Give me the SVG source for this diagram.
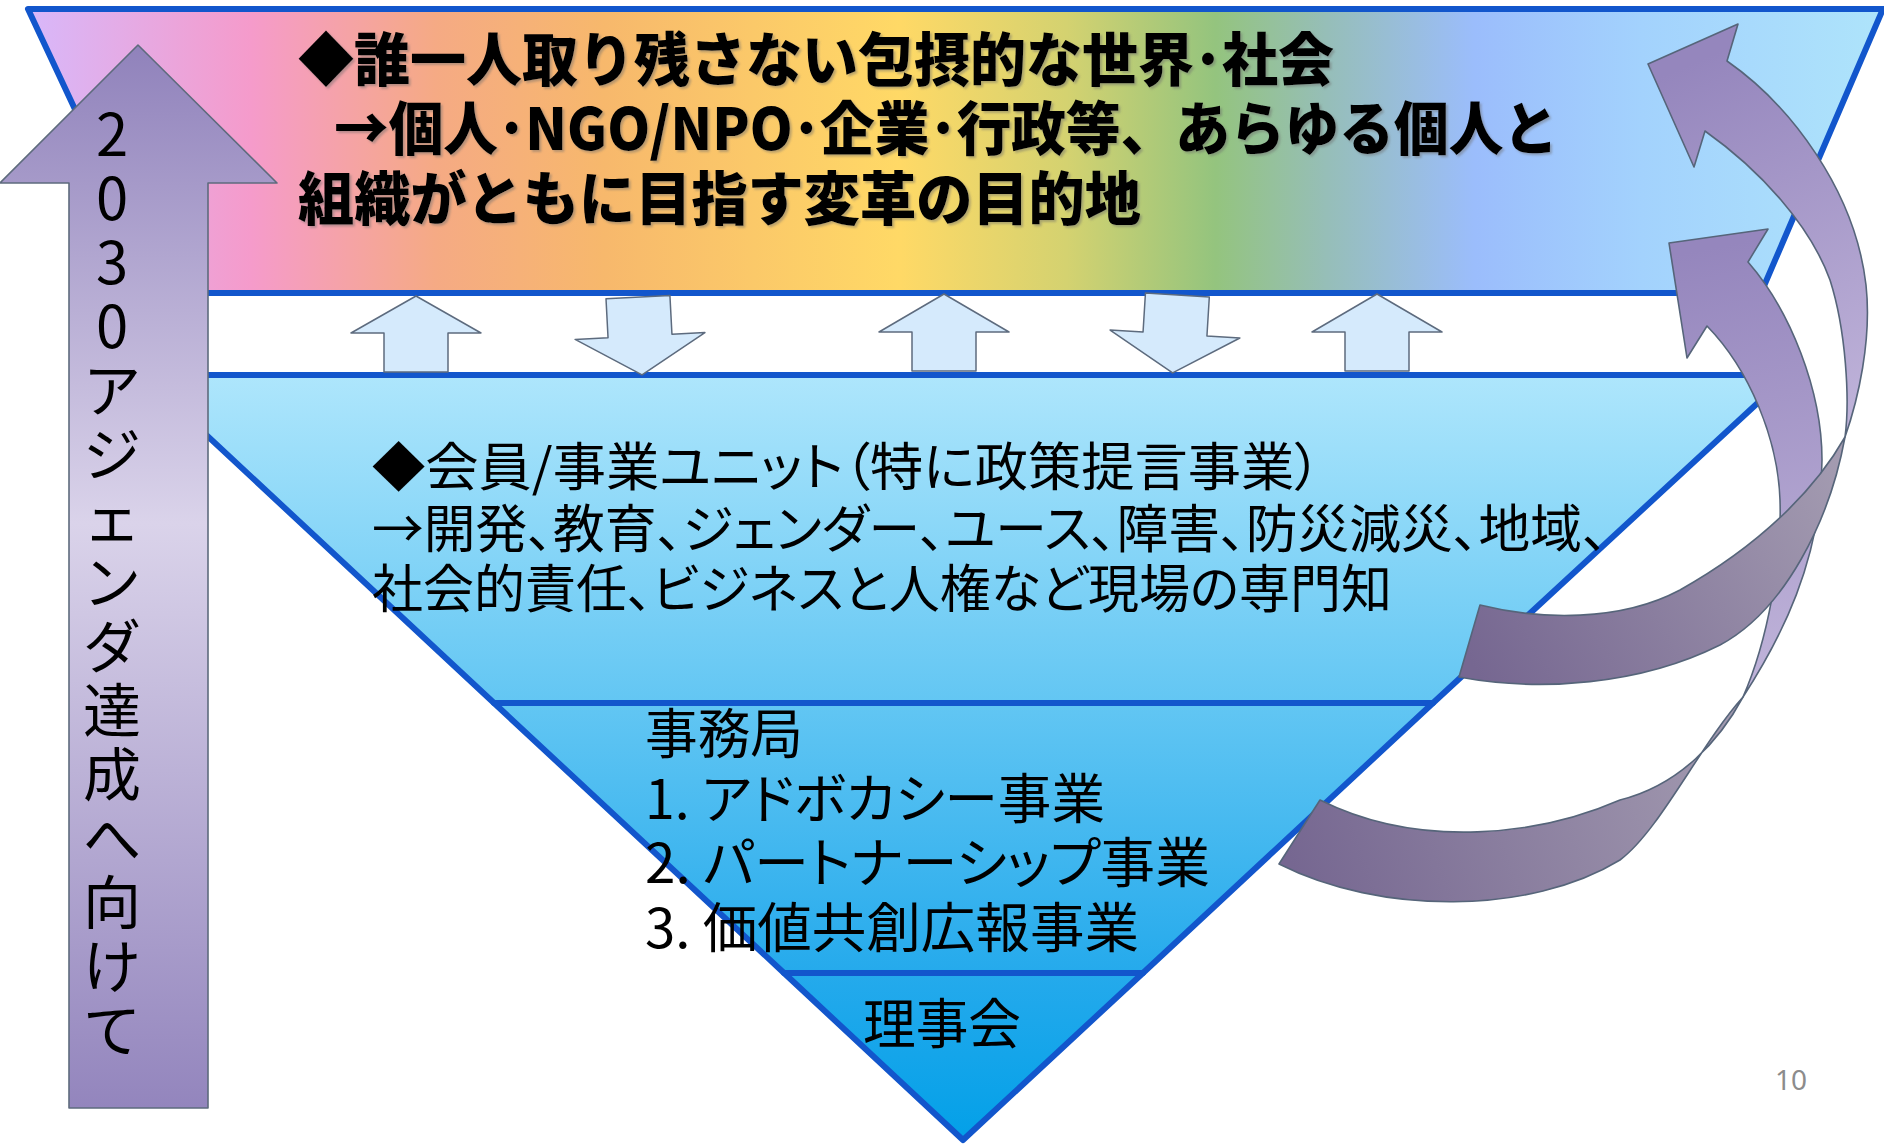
<svg xmlns="http://www.w3.org/2000/svg" width="1884" height="1144" viewBox="0 0 1884 1144">
<defs>
<linearGradient id="rainbow" gradientUnits="userSpaceOnUse" x1="28" y1="0" x2="1883" y2="0">
<stop offset="0" stop-color="#d8b8fa"/>
<stop offset="0.12" stop-color="#f59bcb"/>
<stop offset="0.22" stop-color="#f5aa84"/>
<stop offset="0.31" stop-color="#f7b86c"/>
<stop offset="0.47" stop-color="#ffd966"/>
<stop offset="0.56" stop-color="#d4d270"/>
<stop offset="0.64" stop-color="#94c47e"/>
<stop offset="0.70" stop-color="#96beb8"/>
<stop offset="0.78" stop-color="#9bbdfc"/>
<stop offset="0.87" stop-color="#a3d2fd"/>
<stop offset="1" stop-color="#aee4fb"/>
</linearGradient>
<linearGradient id="blue" gradientUnits="userSpaceOnUse" x1="0" y1="375" x2="0" y2="1140">
<stop offset="0" stop-color="#aee6fc"/>
<stop offset="0.43" stop-color="#62c6f3"/>
<stop offset="0.78" stop-color="#25aaec"/>
<stop offset="1" stop-color="#03a0e8"/>
</linearGradient>
<linearGradient id="goal" gradientUnits="userSpaceOnUse" x1="0" y1="45" x2="0" y2="1108">
<stop offset="0" stop-color="#9082bb"/>
<stop offset="0.45" stop-color="#dad3ea"/>
<stop offset="1" stop-color="#9385bd"/>
</linearGradient>
<linearGradient id="frontA" gradientUnits="userSpaceOnUse" x1="1700" y1="60" x2="1860" y2="430">
<stop offset="0" stop-color="#9586bd"/>
<stop offset="1" stop-color="#c0b4da"/>
</linearGradient>
<linearGradient id="frontB" gradientUnits="userSpaceOnUse" x1="1700" y1="250" x2="1790" y2="690">
<stop offset="0" stop-color="#9586bd"/>
<stop offset="1" stop-color="#c0b4da"/>
</linearGradient>
<linearGradient id="backA" gradientUnits="userSpaceOnUse" x1="1470" y1="660" x2="1840" y2="450">
<stop offset="0" stop-color="#766791"/>
<stop offset="1" stop-color="#a49cb1"/>
</linearGradient>
<linearGradient id="backB" gradientUnits="userSpaceOnUse" x1="1290" y1="860" x2="1740" y2="700">
<stop offset="0" stop-color="#766791"/>
<stop offset="1" stop-color="#a49cb1"/>
</linearGradient>
<filter id="shadow" x="-5%" y="-20%" width="110%" height="140%">
<feDropShadow dx="2" dy="2" stdDeviation="1" flood-color="#6a6a6a" flood-opacity="0.45"/>
</filter>
<style>
.band{stroke:#1256cc;stroke-width:6;stroke-linejoin:round}
.flow{fill:#d5eafc;stroke:#5d6b7e;stroke-width:1.5;stroke-linejoin:round}
.cyc{stroke:#56657a;stroke-width:1.6;stroke-linejoin:round}
text{font-family:"Noto Sans CJK JP","Noto Sans CJK SC",sans-serif;fill:#000}
.tt{font-size:58px;font-weight:900}
.tm{font-size:52px;font-weight:400;font-feature-settings:"palt"}
.ts{font-size:54px;font-weight:400;font-feature-settings:"palt"}
.tv{font-size:58px;font-weight:400;text-anchor:middle}
.pg{font-family:"Noto Sans","Liberation Sans",sans-serif;font-size:28px;fill:#8c8c8c}
</style>
</defs>
<rect width="1884" height="1144" fill="#ffffff"/>

<g id="top-band">
<path class="band" fill="url(#rainbow)" d="M28,9 L1883,9 L1761,293 L161,293 Z"/>
<g filter="url(#shadow)">
<text class="tt" x="298" y="81" textLength="1036" lengthAdjust="spacingAndGlyphs">◆誰一人取り残さない包摂的な世界･社会</text>
<text class="tt" x="334" y="150" textLength="1224" lengthAdjust="spacingAndGlyphs">→個人･NGO/NPO･企業･行政等、あらゆる個人と</text>
<text class="tt" x="298" y="220" textLength="843" lengthAdjust="spacingAndGlyphs">組織がともに目指す変革の目的地</text>
</g>
</g>

<g id="member-band">
<path class="band" fill="url(#blue)" d="M142,375 L1788,375 L1433,703 L494,703 Z"/>
<text class="tm" x="372" y="486" textLength="949" lengthAdjust="spacingAndGlyphs">◆会員/事業ユニット（特に政策提言事業）</text>
<text class="tm" x="372" y="548" textLength="1236" lengthAdjust="spacingAndGlyphs">→開発、教育、ジェンダー、ユース、障害、防災減災、地域、</text>
<text class="tm" x="372" y="608" textLength="1020" lengthAdjust="spacingAndGlyphs">社会的責任、ビジネスと人権など現場の専門知</text>
</g>

<g id="secretariat">
<path class="band" fill="url(#blue)" d="M494,703 L1433,703 L1143,973 L784,973 Z"/>
<text class="ts" x="645" y="754" textLength="158" lengthAdjust="spacingAndGlyphs">事務局</text>
<text class="ts" x="645" y="819" textLength="460" lengthAdjust="spacingAndGlyphs">1. アドボカシー事業</text>
<text class="ts" x="645" y="883" textLength="565" lengthAdjust="spacingAndGlyphs">2. パートナーシップ事業</text>
<text class="ts" x="645" y="948" textLength="494" lengthAdjust="spacingAndGlyphs">3. 価値共創広報事業</text>
</g>

<g id="board">
<path class="band" fill="url(#blue)" d="M784,973 L1143,973 L963,1140 Z"/>
<text class="ts" x="863" y="1044" textLength="158" lengthAdjust="spacingAndGlyphs">理事会</text>
</g>

<g id="connectors">
<path class="flow" d="M416,296 L481,333 L448,333 L448,372 L384,372 L384,333 L351,333 Z"/>
<path class="flow" transform="rotate(-3 640 336)" d="M608,297 L672,297 L672,336 L705,336 L640,375 L575,336 L608,336 Z"/>
<path class="flow" d="M944,294 L1009,332 L976,332 L976,371 L912,371 L912,332 L879,332 Z"/>
<path class="flow" transform="rotate(3.5 1175 334)" d="M1143,295 L1207,295 L1207,334 L1240,334 L1175,373 L1110,334 L1143,334 Z"/>
<path class="flow" d="M1377,294 L1442,332 L1409,332 L1409,371 L1345,371 L1345,332 L1312,332 Z"/>
</g>

<g id="goal-arrow">
<path d="M138,45 L277,183 L208,183 L208,1108 L69,1108 L69,183 L0,183 Z" fill="url(#goal)" stroke="#5e6b7d" stroke-width="1.6" stroke-linejoin="round"/>
<text class="tv" x="112 112 112 112 112 112 112 112 112 112 112 112 112 112 112" y="156 220 284 348 412 476 540 604 668 732 796 860 924 988 1052">2030アジェンダ達成へ向けて</text>
</g>

<g id="cycle-arrow-b">
<path class="cyc" fill="url(#frontB)" d="M1687,358 L1669,243 L1768,229 L1748,262 C1790,310 1822,390 1822,460 C1822,560 1780,640 1743,697 C1768,640 1782,560 1780,500 C1778,440 1750,370 1707,326 Z"/>
<path class="cyc" fill="url(#backB)" d="M1743,697 C1720,740 1680,785 1620,800 C1540,835 1420,850 1320,800 L1279,864 C1380,915 1530,915 1620,860 C1660,830 1700,745 1743,697 Z"/>
</g>

<g id="cycle-arrow-a">
<path class="cyc" fill="url(#frontA)" d="M1694,167 L1648,64 L1738,24 L1727,61 C1790,105 1855,190 1866,285 C1872,340 1858,400 1845,437 C1850,400 1846,330 1830,280 C1810,225 1760,170 1705,131 Z"/>
<path class="cyc" fill="url(#backA)" d="M1845,437 C1815,490 1760,545 1680,590 C1620,622 1540,620 1480,605 L1459,677 C1540,692 1640,685 1720,645 C1785,610 1830,520 1845,437 Z"/>
</g>

<g id="page-number">
<text class="pg" x="1775" y="1090">10</text>
</g>
</svg>
